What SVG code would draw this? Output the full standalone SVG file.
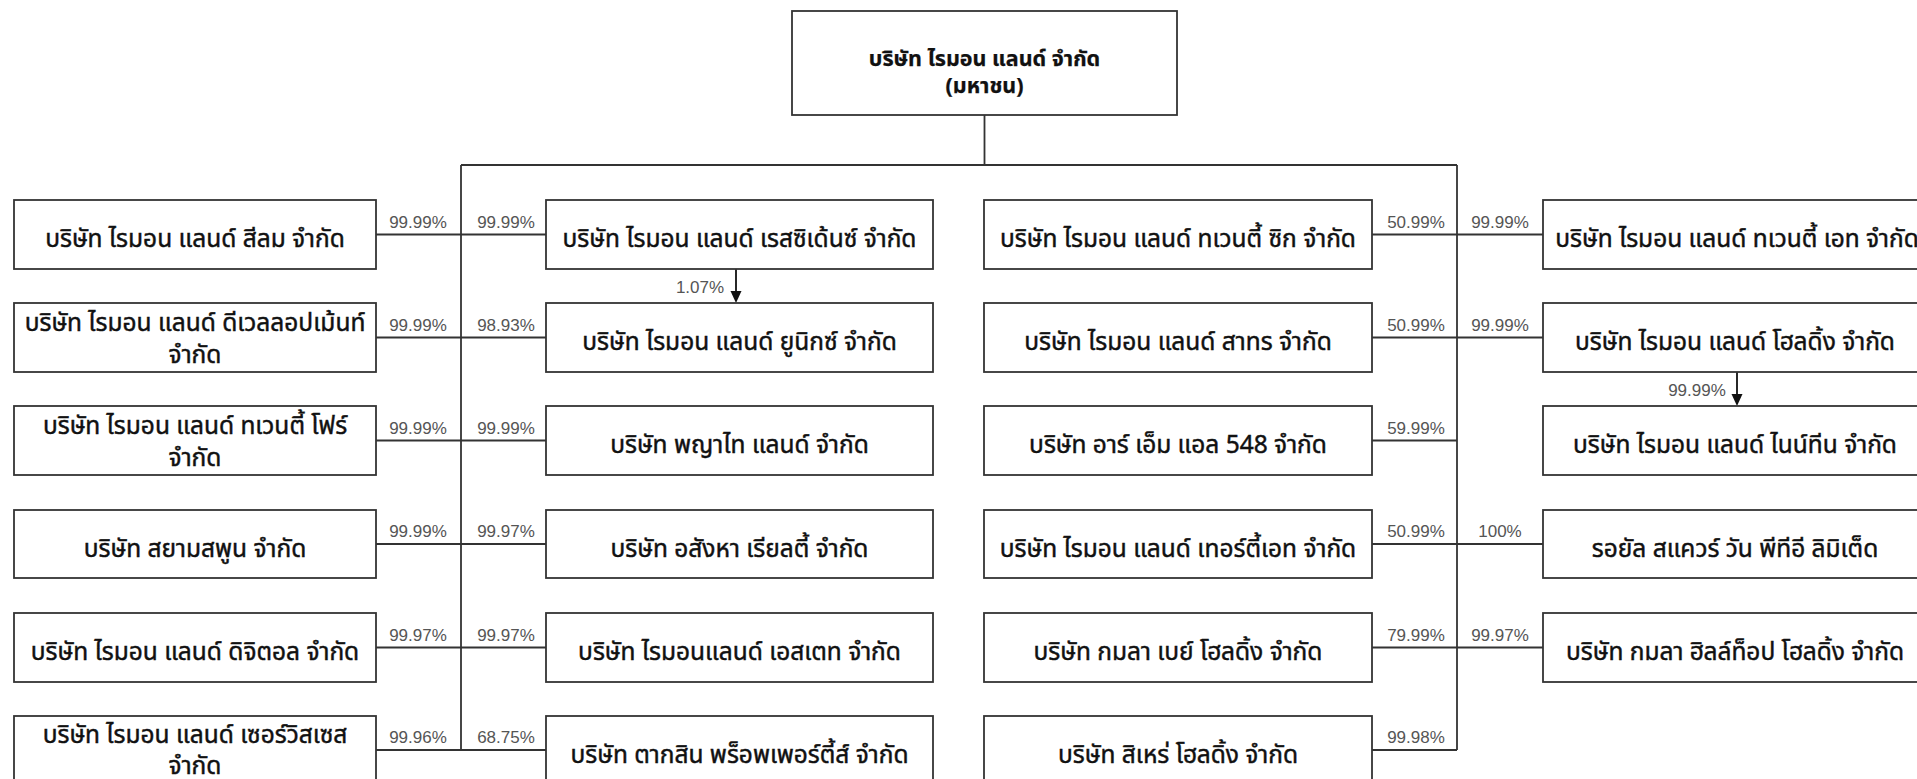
<svg xmlns="http://www.w3.org/2000/svg" width="1917" height="779" viewBox="0 0 1917 779">
<defs>
<style>
.box{fill:#fff;stroke:#333;stroke-width:1.8}
.t{font-family:"Tahoma","Noto Sans Thai","Noto Sans","DejaVu Sans",sans-serif;font-size:24.5px;font-weight:normal;fill:#111;stroke:#111;stroke-width:0.45;text-anchor:middle;dominant-baseline:central}
.tt{font-size:21.5px;font-weight:bold;stroke-width:0.25}
.p{font-family:"Liberation Sans",Arial,sans-serif;font-size:17px;fill:#555;text-anchor:middle}
.ln{fill:none;stroke:#333;stroke-width:1.8}
</style>
</defs>
<rect width="1917" height="779" fill="#fff"/>
<g id="connectors">
<path class="ln" d="M984.5,115 V165 M461,165 H1457 M461,165 V750 M1457,165 V750"/>
<path class="ln" d="M376,234.5 H546 M376,337.5 H546 M376,440.5 H546 M376,544 H546 M376,647.5 H546 M376,750 H546"/>
<path class="ln" d="M1372,234.5 H1543 M1372,337.5 H1543 M1372,440.5 H1457 M1372,544 H1543 M1372,647.5 H1543 M1372,750 H1457"/>
<line x1="736" y1="269" x2="736" y2="292" stroke="#111" stroke-width="1.8"/>
<path d="M730.5,291 L741.5,291 L736,303 Z" fill="#111"/>
<line x1="1737" y1="372" x2="1737" y2="395" stroke="#111" stroke-width="1.8"/>
<path d="M1731.5,394 L1742.5,394 L1737,406 Z" fill="#111"/>
<g id="pct">
<text class="p" x="418" y="227.5">99.99%</text>
<text class="p" x="418" y="330.5">99.99%</text>
<text class="p" x="418" y="433.5">99.99%</text>
<text class="p" x="418" y="537">99.99%</text>
<text class="p" x="418" y="640.5">99.97%</text>
<text class="p" x="418" y="743">99.96%</text>
<text class="p" x="506" y="227.5">99.99%</text>
<text class="p" x="506" y="330.5">98.93%</text>
<text class="p" x="506" y="433.5">99.99%</text>
<text class="p" x="506" y="537">99.97%</text>
<text class="p" x="506" y="640.5">99.97%</text>
<text class="p" x="506" y="743">68.75%</text>
<text class="p" x="1416" y="227.5">50.99%</text>
<text class="p" x="1416" y="330.5">50.99%</text>
<text class="p" x="1416" y="433.5">59.99%</text>
<text class="p" x="1416" y="537">50.99%</text>
<text class="p" x="1416" y="640.5">79.99%</text>
<text class="p" x="1416" y="743">99.98%</text>
<text class="p" x="1500" y="227.5">99.99%</text>
<text class="p" x="1500" y="330.5">99.99%</text>
<text class="p" x="1500" y="537">100%</text>
<text class="p" x="1500" y="640.5">99.97%</text>
<text class="p" x="700" y="293">1.07%</text>
<text class="p" x="1697" y="396">99.99%</text>
</g>
</g>
<g id="n-top"><rect class="box" x="792" y="11" width="385" height="104" stroke-width="2"/><text class="t tt" x="984.5" y="59">บริษัท ไรมอน แลนด์ จำกัด</text><text class="t tt" x="984.5" y="86">(มหาชน)</text></g>
<g id="a1"><rect class="box" x="14" y="200" width="362" height="69"/><text class="t" x="195" y="239.5">บริษัท ไรมอน แลนด์ สีลม จำกัด</text></g>
<g id="a2"><rect class="box" x="14" y="303" width="362" height="69"/><text class="t" x="195" y="323">บริษัท ไรมอน แลนด์ ดีเวลลอปเม้นท์</text><text class="t" x="195" y="355">จำกัด</text></g>
<g id="a3"><rect class="box" x="14" y="406" width="362" height="69"/><text class="t" x="195" y="426">บริษัท ไรมอน แลนด์ ทเวนตี้ โฟร์</text><text class="t" x="195" y="458">จำกัด</text></g>
<g id="a4"><rect class="box" x="14" y="510" width="362" height="68"/><text class="t" x="195" y="549">บริษัท สยามสพูน จำกัด</text></g>
<g id="a5"><rect class="box" x="14" y="613" width="362" height="69"/><text class="t" x="195" y="652.5">บริษัท ไรมอน แลนด์ ดิจิตอล จำกัด</text></g>
<g id="a6"><rect class="box" x="14" y="716" width="362" height="69"/><text class="t" x="195" y="735">บริษัท ไรมอน แลนด์ เซอร์วิสเซส</text><text class="t" x="195" y="766">จำกัด</text></g>
<g id="b1"><rect class="box" x="546" y="200" width="387" height="69"/><text class="t" x="739.5" y="239.5">บริษัท ไรมอน แลนด์ เรสซิเด้นซ์ จำกัด</text></g>
<g id="b2"><rect class="box" x="546" y="303" width="387" height="69"/><text class="t" x="739.5" y="342.5">บริษัท ไรมอน แลนด์ ยูนิกซ์ จำกัด</text></g>
<g id="b3"><rect class="box" x="546" y="406" width="387" height="69"/><text class="t" x="739.5" y="445.5">บริษัท พญาไท แลนด์ จำกัด</text></g>
<g id="b4"><rect class="box" x="546" y="510" width="387" height="68"/><text class="t" x="739.5" y="549">บริษัท อสังหา เรียลตี้ จำกัด</text></g>
<g id="b5"><rect class="box" x="546" y="613" width="387" height="69"/><text class="t" x="739.5" y="652.5">บริษัท ไรมอนแลนด์ เอสเตท จำกัด</text></g>
<g id="b6"><rect class="box" x="546" y="716" width="387" height="69"/><text class="t" x="739.5" y="755.5">บริษัท ตากสิน พร็อพเพอร์ตี้ส์ จำกัด</text></g>
<g id="c1"><rect class="box" x="984" y="200" width="388" height="69"/><text class="t" x="1178" y="239.5">บริษัท ไรมอน แลนด์ ทเวนตี้ ซิก จำกัด</text></g>
<g id="c2"><rect class="box" x="984" y="303" width="388" height="69"/><text class="t" x="1178" y="342.5">บริษัท ไรมอน แลนด์ สาทร จำกัด</text></g>
<g id="c3"><rect class="box" x="984" y="406" width="388" height="69"/><text class="t" x="1178" y="445.5">บริษัท อาร์ เอ็ม แอล 548 จำกัด</text></g>
<g id="c4"><rect class="box" x="984" y="510" width="388" height="68"/><text class="t" x="1178" y="549">บริษัท ไรมอน แลนด์ เทอร์ตี้เอท จำกัด</text></g>
<g id="c5"><rect class="box" x="984" y="613" width="388" height="69"/><text class="t" x="1178" y="652.5">บริษัท กมลา เบย์ โฮลดิ้ง จำกัด</text></g>
<g id="c6"><rect class="box" x="984" y="716" width="388" height="69"/><text class="t" x="1178" y="755.5">บริษัท สิเหร่ โฮลดิ้ง จำกัด</text></g>
<g id="d1"><rect class="box" x="1543" y="200" width="384" height="69"/><text class="t" x="1737" y="239.5">บริษัท ไรมอน แลนด์ ทเวนตี้ เอท จำกัด</text></g>
<g id="d2"><rect class="box" x="1543" y="303" width="384" height="69"/><text class="t" x="1735" y="342.5">บริษัท ไรมอน แลนด์ โฮลดิ้ง จำกัด</text></g>
<g id="d3"><rect class="box" x="1543" y="406" width="384" height="69"/><text class="t" x="1735" y="445.5">บริษัท ไรมอน แลนด์ ไนน์ทีน จำกัด</text></g>
<g id="d4"><rect class="box" x="1543" y="510" width="384" height="68"/><text class="t" x="1735" y="549">รอยัล สแควร์ วัน พีทีอี ลิมิเต็ด</text></g>
<g id="d5"><rect class="box" x="1543" y="613" width="384" height="69"/><text class="t" x="1735" y="652.5">บริษัท กมลา ฮิลล์ท็อป โฮลดิ้ง จำกัด</text></g>
</svg>
